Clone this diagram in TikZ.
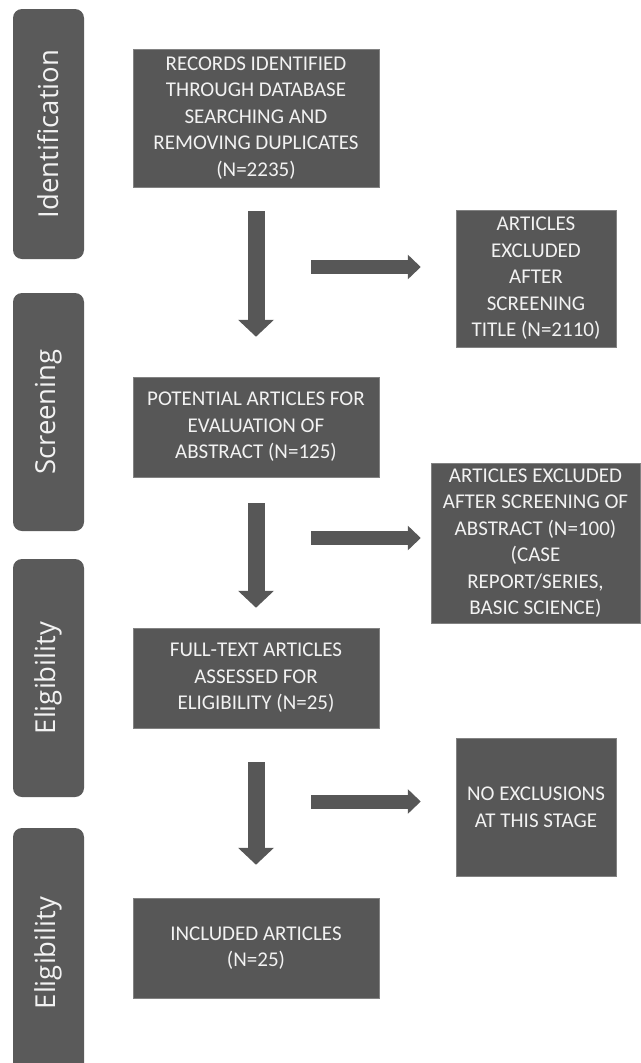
\documentclass[tikz,border=0pt]{standalone}
\usepackage{fontspec}
\setmainfont{Carlito}
\newfontfamily\sidefont{Open Sans}
\usetikzlibrary{arrows.meta}
\definecolor{boxgray}{RGB}{87,87,87}
\definecolor{sidegray}{RGB}{90,90,90}
\definecolor{edgegray}{RGB}{130,130,130}
\definecolor{txt}{RGB}{242,242,242}
\tikzset{
  flowbox/.style={rectangle, fill=boxgray, draw=edgegray, line width=0.5pt, inner sep=0pt,
    text=txt, align=center, font=\fontsize{21}{26.5}\selectfont},
  sidebar/.style={rectangle, rounded corners=9pt, fill=sidegray, inner sep=0pt,
    text=txt, rotate=90, minimum height=71pt, font=\sidefont\fontsize{27.5}{30}\selectfont},
  downarrow/.style={draw=boxgray, line width=17pt, -{Triangle[width=35pt,length=17pt]}},
  rightarrow/.style={draw=boxgray, line width=14pt, -{Triangle[width=24pt,length=13pt]}}
}
\begin{document}
\begin{tikzpicture}[x=1pt,y=-1pt]
\useasboundingbox (0,0) rectangle (640,1063);
% sidebars
\node[sidebar, minimum width=250pt] (s1) at (48.5,134) {Identification};
\node[sidebar, minimum width=238pt] (s2) at (48.5,412) {Screening};
\node[sidebar, minimum width=238pt] (s3) at (48.5,678) {Eligibility};
\node[sidebar, minimum width=250pt] (s4) at (48.5,953) {Eligibility};
% main boxes
\node[flowbox, minimum width=246pt, minimum height=138pt] (b1) at (256,118)
  {RECORDS IDENTIFIED\\THROUGH DATABASE\\SEARCHING AND\\REMOVING DUPLICATES\\(N=2235)};
\node[flowbox, minimum width=160pt, minimum height=137pt] (b2) at (536,278.5)
  {ARTICLES\\EXCLUDED\\AFTER\\SCREENING\\TITLE (N=2110)};
\node[flowbox, minimum width=246pt, minimum height=100pt] (b3) at (256,427)
  {POTENTIAL ARTICLES FOR\\EVALUATION OF\\ABSTRACT (N=125)};
\node[flowbox, minimum width=209pt, minimum height=160pt] (b4) at (535.5,543)
  {ARTICLES EXCLUDED\\AFTER SCREENING OF\\ABSTRACT (N=100)\\(CASE\\REPORT/SERIES,\\BASIC SCIENCE)};
\node[flowbox, minimum width=246pt, minimum height=100pt] (b5) at (256,678)
  {FULL-TEXT ARTICLES\\ASSESSED FOR\\ELIGIBILITY (N=25)};
\node[flowbox, minimum width=160pt, minimum height=138pt] (b6) at (536,807)
  {NO EXCLUSIONS\\AT THIS STAGE};
\node[flowbox, minimum width=246pt, minimum height=100pt] (b7) at (256,948)
  {INCLUDED ARTICLES\\(N=25)};
% down arrows
\draw[downarrow, shorten <=24pt, shorten >=40pt] (b1.south) -- (b3.north);
\draw[downarrow, shorten <=26pt, shorten >=20pt] (b3.south) -- (b5.north);
\draw[downarrow, shorten <=34pt, shorten >=33pt] (b5.south) -- (b7.north);
% right arrows
\coordinate (r1) at (311,267);
\coordinate (r2) at (311,538);
\coordinate (r3) at (311,801.5);
\draw[rightarrow, shorten >=35pt] (r1) -- (r1 -| b2.west);
\draw[rightarrow, shorten >=10pt] (r2) -- (r2 -| b4.west);
\draw[rightarrow, shorten >=35pt] (r3) -- (r3 -| b6.west);
\end{tikzpicture}
\end{document}
